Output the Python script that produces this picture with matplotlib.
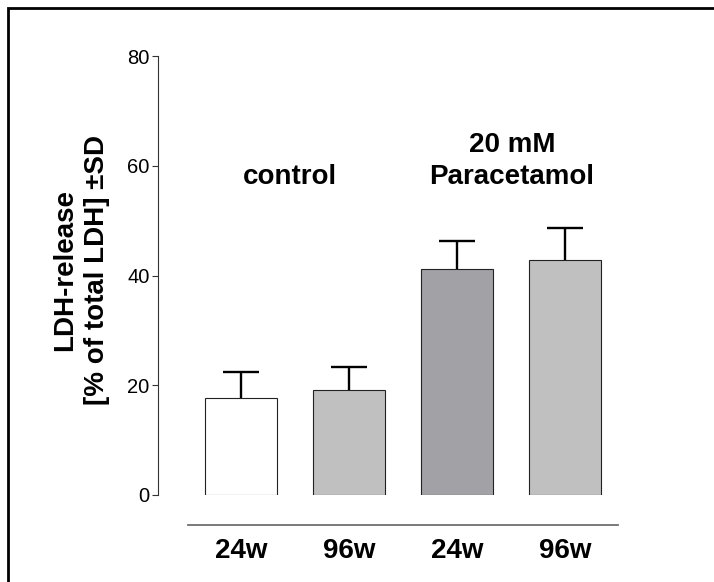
import numpy as np
import matplotlib
matplotlib.use("Agg")
import matplotlib.pyplot as plt
from matplotlib.patches import Rectangle

plt.rcParams['font.family'] = ['Liberation Sans', 'DejaVu Sans']

# data
labels = ['24w', '96w', '24w', '96w']
means = [17.6, 19.1, 41.1, 42.9]
sds = [4.9, 4.2, 5.1, 5.8]
colors = ['#ffffff', '#c0c0c0', '#a2a2a6', '#c0c0c0']
groups = ['control', '20 mM\nParacetamol']

pos = np.arange(len(means))

fig = plt.figure(figsize=(7.14, 5.82), dpi=100)
ax = fig.add_axes([158/714, 87/582, 461/714, 439/582])

ax.bar(pos, means, width=0.667, color=colors, edgecolor='#222222', linewidth=0.8, zorder=2)
eb = ax.errorbar(pos, means, yerr=[np.zeros(len(sds)), sds], fmt='none', ecolor='black',
                 elinewidth=1.7, capsize=13, capthick=1.7, zorder=1)
# only the upper cap
eb[1][0].set_visible(False)

ax.set_xlim(-0.769, 3.5)
ax.set_ylim(0, 80)
ax.set_yticks([0, 20, 40, 60, 80])
ax.tick_params(axis='y', direction='out', length=4, width=0.8, labelsize=14.5, pad=2, color='#333333')
ax.set_xticks(pos, labels, fontsize=20, fontweight='bold')
ax.tick_params(axis='x', length=0, pad=31)

for s in ['top', 'right', 'bottom']:
    ax.spines[s].set_visible(False)
ax.spines['left'].set_linewidth(0.8)
ax.spines['left'].set_color('#333333')

# baseline under the bars
ax.plot([pos[0] - 0.49, pos[-1] + 0.49], [-5.5, -5.5], color='#707070', lw=1.3, clip_on=False)

# group labels
ax.text(0.45, 56.6, 'control', ha='center', va='baseline', fontsize=20, fontweight='bold')
ax.text(2.51, 56.6, 'Paracetamol', ha='center', va='baseline', fontsize=20, fontweight='bold')
ax.text(2.51, 62.5, '20 mM', ha='center', va='baseline', fontsize=20, fontweight='bold')

ax.set_ylabel('LDH-release\n[% of total LDH] \u00b1SD', fontsize=20, fontweight='bold',
              linespacing=1.3)
ax.yaxis.set_label_coords(-0.104, 0.512)

# frame (only top and left are visible in the crop)
fig.add_artist(Rectangle((8/714, -0.1), 1.2, 1.1 - 8/582, transform=fig.transFigure,
                         fill=False, edgecolor='black', lw=2, clip_on=False))

fig.savefig('out.png', dpi=100)
